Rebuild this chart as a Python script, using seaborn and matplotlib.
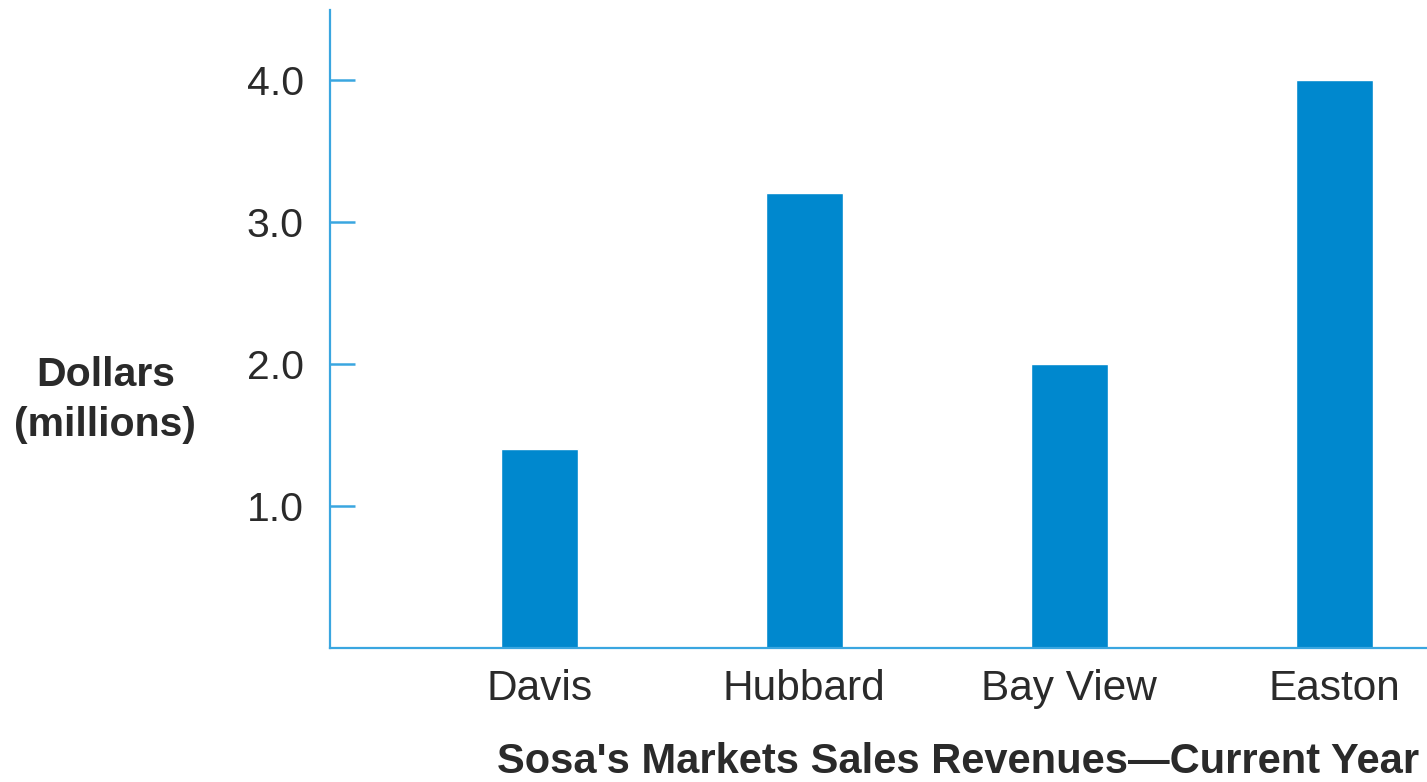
import matplotlib
matplotlib.use("Agg")
import matplotlib.pyplot as plt
import seaborn as sns

# Store revenue data (millions of dollars)
stores = ["Davis", "Hubbard", "Bay View", "Easton"]
revenue = [1.4, 3.2, 2.0, 4.0]
y_ticks = [1.0, 2.0, 3.0, 4.0]
y_label = "Dollars\n(millions)"
x_title = "Sosa's Markets Sales Revenues\u2014Current Year"

bar_color = "#0088CE"
axis_color = "#3AA6E0"
text_color = "#2A2A2A"

sns.set_style("white")
plt.rcParams["font.family"] = ["Liberation Sans", "DejaVu Sans"]

fig = plt.figure(figsize=(14.27, 7.82), dpi=100)
ax = fig.add_axes([0.2313, 0.1714, 0.7687, 0.8159])

sns.barplot(x=stores, y=revenue, color=bar_color, saturation=1,
            width=0.29, ax=ax)

ax.set_xlim(-0.79, 3.35)
ax.set_ylim(0, 4.49)

ax.set_yticks(y_ticks)
ax.set_yticklabels([f"{v:.1f}" for v in y_ticks])

for side in ("top", "right"):
    ax.spines[side].set_visible(False)
for side in ("left", "bottom"):
    ax.spines[side].set_color(axis_color)
    ax.spines[side].set_linewidth(1.6)

ax.tick_params(axis="y", left=True, direction="in", length=18, width=1.8,
               color=axis_color, pad=19, labelsize=29.5, labelcolor=text_color)
ax.tick_params(axis="x", bottom=False, length=0, pad=15, labelsize=30.5,
               labelcolor=text_color)

ax.set_ylabel(y_label, rotation=0, fontsize=29.5, fontweight="bold",
              color=text_color, ha="center", va="center", linespacing=1.4)
ax.yaxis.set_label_coords(-0.205, 0.388)

ax.set_xlabel(x_title, fontsize=30, fontweight="bold", color=text_color)
ax.xaxis.set_label_coords(0.5725, -0.179)
ax.xaxis.label.set_va("center")

fig.savefig("out.png", dpi=100, facecolor="white")
